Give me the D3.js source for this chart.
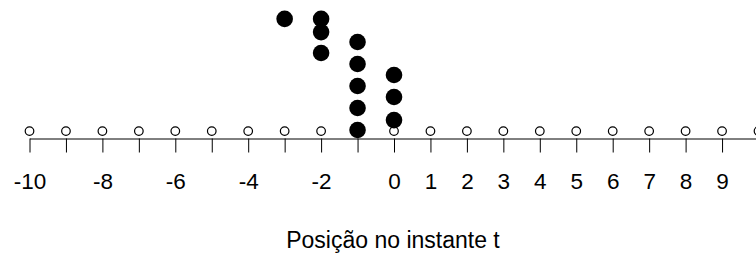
<!DOCTYPE html>
<html>
<head>
<meta charset="utf-8">
<script src="https://cdn.jsdelivr.net/npm/d3@7"></script>
<style>
  body { margin: 0; background: #fff; }
  svg { display: block; font-family: "Liberation Sans", Arial, sans-serif; }
</style>
</head>
<body>
<script>
// integer positions on the line
const positions = [-10, -9, -8, -7, -6, -5, -4, -3, -2, -1, 0, 1, 2, 3, 4, 5, 6, 7, 8, 9, 10];
// labels actually printed under ticks
const tickLabels = [-10, -8, -6, -4, -2, 0, 1, 2, 3, 4, 5, 6, 7, 8, 9];
// walkers: position and stacking level (height above the axis)
const walkerX = [-3, -2, -2, -2, -1, -1, -1, -1, -1, 0, 0, 0];
const walkerLevel = [6.05, 6.05, 5.45, 4.5, 1, 2, 3, 4, 5, 1.45, 2.5, 3.5];
const markLevel = 0.95;
const xLabel = "Posição no instante t";

const width = 756, height = 255;

const x = d3.scaleLinear()
    .domain([-10, 10])
    .range([29.5, 758.5]);

const y = d3.scaleLinear()
    .domain([0, 6])
    .range([152, 20]);

const svg = d3.select("body").append("svg")
    .attr("width", width)
    .attr("height", height)
    .attr("viewBox", [0, 0, width, height]);

svg.append("g")
    .attr("transform", "translate(0,138.5)")
    .call(d3.axisBottom(x)
        .tickValues(positions)
        .tickSize(14)
        .tickSizeOuter(0)
        .tickPadding(21))
    .call(g => g.select(".domain").attr("stroke", "#000"))
    .call(g => g.selectAll(".tick line").attr("stroke", "#000"))
    .call(g => g.selectAll(".tick text")
        .attr("fill", "#000")
        .attr("font-size", 22.5)
        .text(d => tickLabels.includes(d) ? String(d) : ""));

svg.append("g")
    .attr("fill", "#fff")
    .attr("stroke", "#000")
    .attr("stroke-width", 1.2)
  .selectAll("circle")
  .data(positions)
  .join("circle")
    .attr("cx", d => x(d))
    .attr("cy", y(markLevel))
    .attr("r", 4.3);

svg.append("g")
    .attr("fill", "#000")
  .selectAll("circle")
  .data(walkerX)
  .join("circle")
    .attr("cx", d => x(d))
    .attr("cy", (d, i) => y(walkerLevel[i]))
    .attr("r", 8.3);

svg.append("text")
    .attr("x", x(0) - 1)
    .attr("y", 248)
    .attr("text-anchor", "middle")
    .attr("font-size", 23)
    .attr("fill", "#000")
    .text(xLabel);
</script>
</body>
</html>
